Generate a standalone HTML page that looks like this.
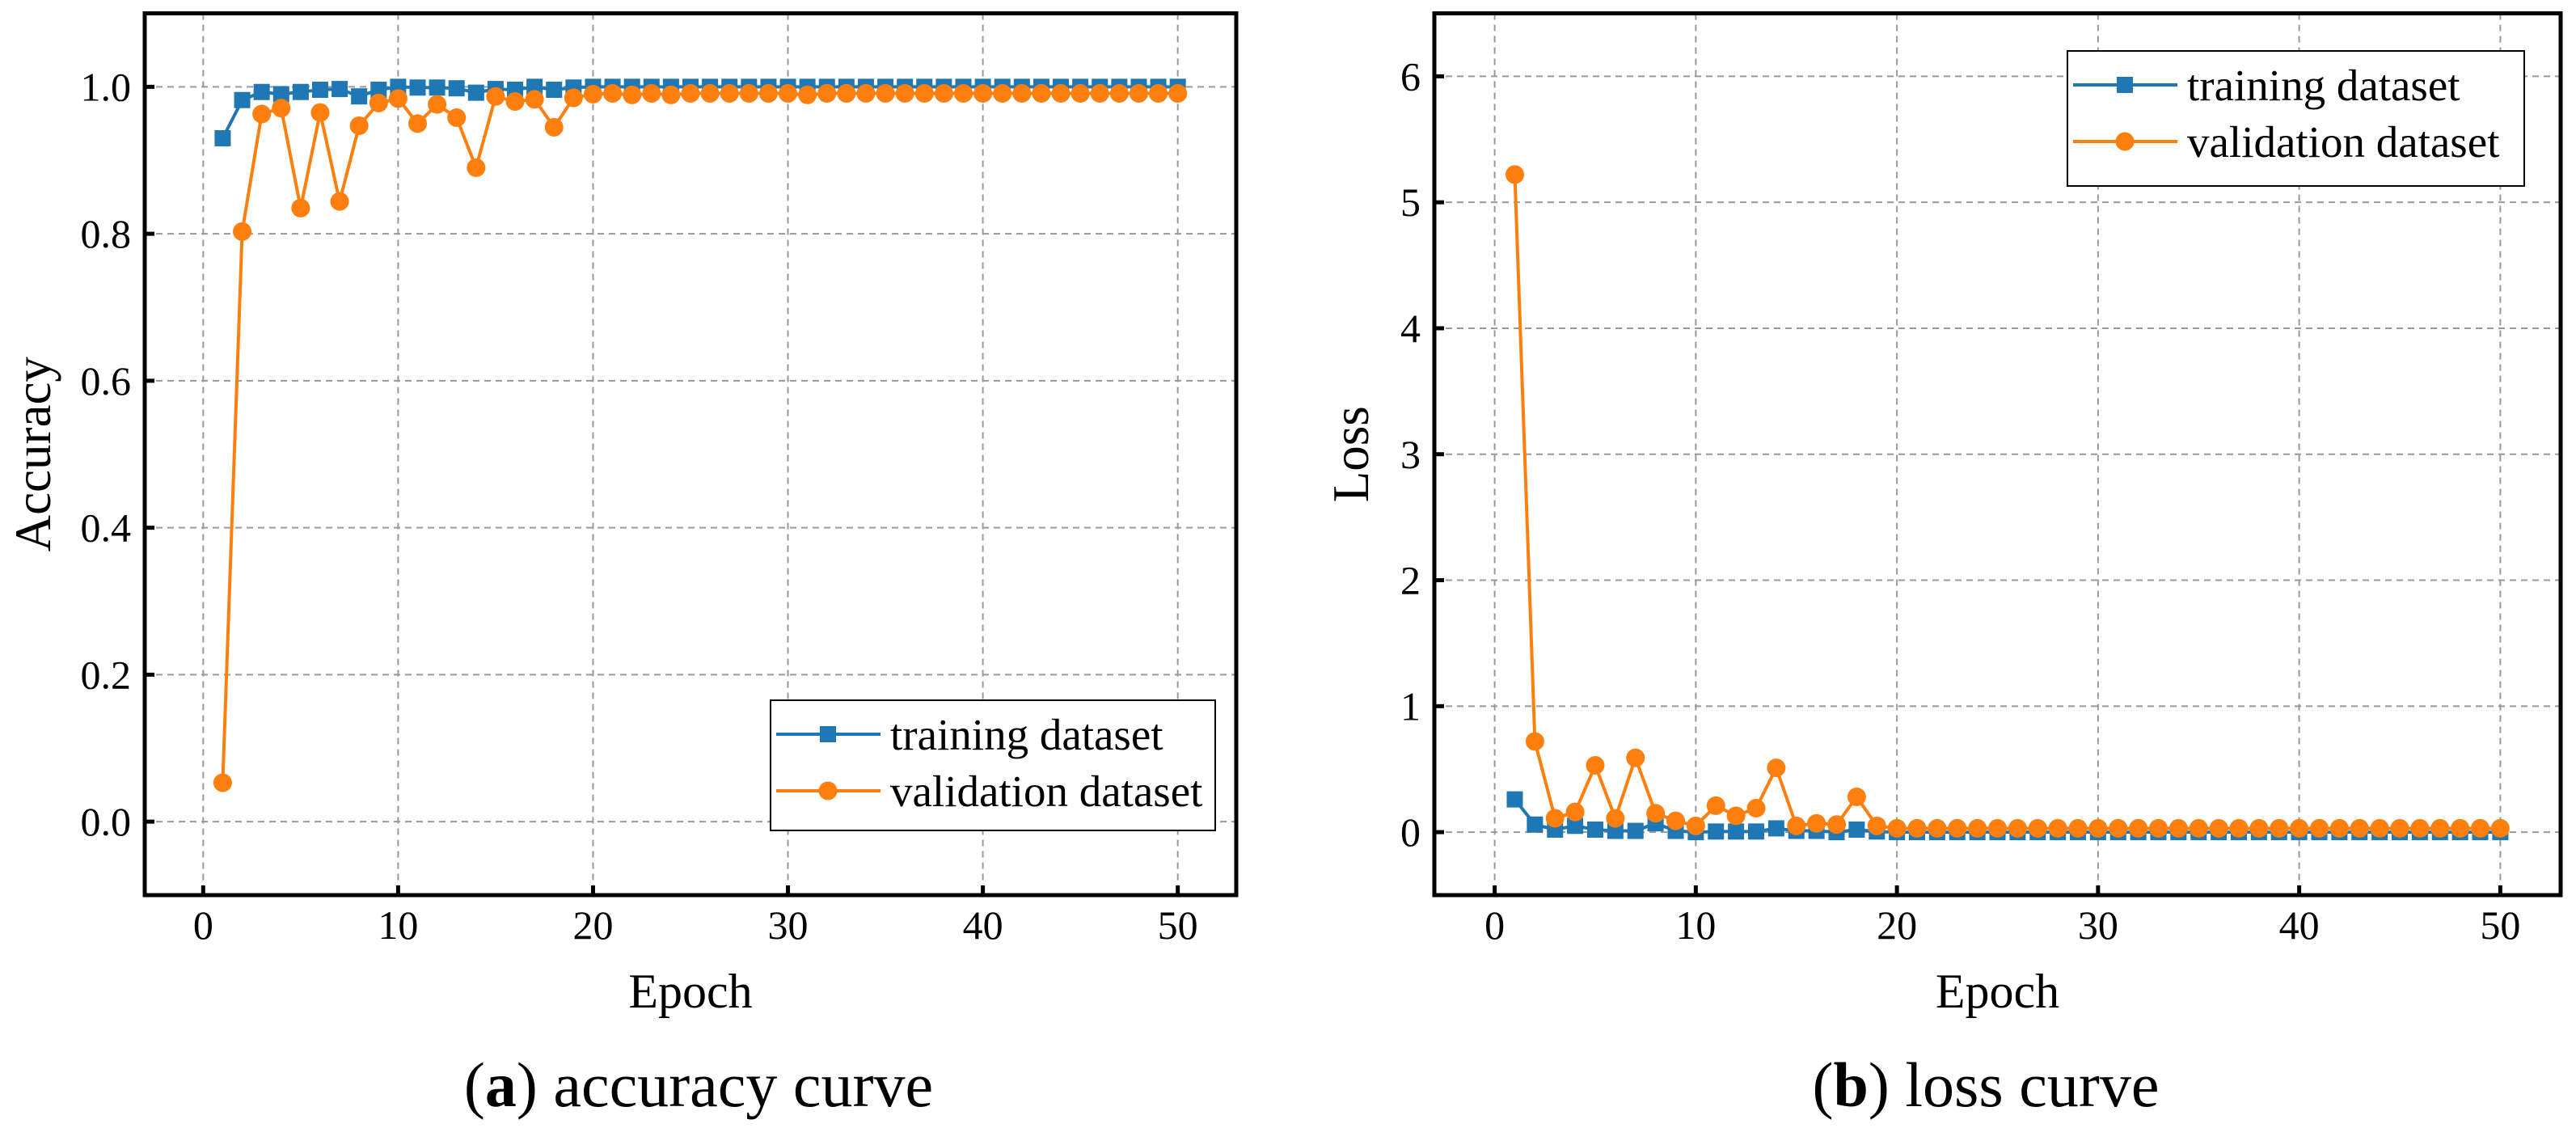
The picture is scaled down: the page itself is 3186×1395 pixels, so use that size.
<!DOCTYPE html>
<html><head><meta charset="utf-8"><style>
html,body{margin:0;padding:0;background:#fff}
svg{display:block;font-family:"Liberation Serif",serif}
</style></head><body>
<svg id="fig" width="3186" height="1395" viewBox="0 0 3186 1395" xmlns="http://www.w3.org/2000/svg">
<rect width="3186" height="1395" fill="#fff"/>
<g id="pa"></g>
<g id="pb"></g>
<text x="864" y="1368" font-size="78" text-anchor="middle">(<tspan font-weight="bold">a</tspan>) accuracy curve</text>
<text x="2456" y="1368" font-size="78" text-anchor="middle">(<tspan font-weight="bold">b</tspan>) loss curve</text>
</svg>
<script>
const epochs = Array.from({length:50},(_,i)=>i+1);
const accTrain = [0.93,0.982,0.993,0.99,0.993,0.996,0.997,0.987,0.996,1.0,0.999,0.999,0.998,0.992,0.997,0.996,1.0,0.996,0.999,1.0,1.0,1.0,1.0,1.0,1.0,1.0,1.0,1.0,1.0,1.0,1.0,1.0,1.0,1.0,1.0,1.0,1.0,1.0,1.0,1.0,1.0,1.0,1.0,1.0,1.0,1.0,1.0,1.0,1.0,1.0];
const accVal = [0.053,0.803,0.963,0.971,0.835,0.965,0.844,0.947,0.978,0.984,0.95,0.976,0.958,0.89,0.987,0.98,0.983,0.945,0.985,0.99,0.991,0.989,0.991,0.989,0.991,0.991,0.991,0.991,0.991,0.991,0.989,0.991,0.991,0.991,0.991,0.991,0.991,0.991,0.991,0.991,0.991,0.991,0.991,0.991,0.991,0.991,0.991,0.991,0.991,0.991];
const lossTrain = [0.26,0.06,0.02,0.05,0.02,0.01,0.01,0.07,0.01,0.0,0.005,0.005,0.005,0.03,0.01,0.01,0.0,0.02,0.005,0.0,0,0,0,0,0,0,0,0,0,0,0,0,0,0,0,0,0,0,0,0,0,0,0,0,0,0,0,0,0,0];
const lossVal = [5.22,0.72,0.11,0.16,0.53,0.11,0.59,0.15,0.09,0.05,0.21,0.13,0.19,0.51,0.05,0.07,0.06,0.28,0.05,0.03,0.03,0.03,0.03,0.03,0.03,0.03,0.03,0.03,0.03,0.03,0.03,0.03,0.03,0.03,0.03,0.03,0.03,0.03,0.03,0.03,0.03,0.03,0.03,0.03,0.03,0.03,0.03,0.03,0.03,0.03];
const xTicks = [0,10,20,30,40,50];
const accTicks = [0.0,0.2,0.4,0.6,0.8,1.0];
const lossTicks = [0,1,2,3,4,5,6];
const NS="http://www.w3.org/2000/svg";
function mk(parent,tag,attrs,text){const e=document.createElementNS(NS,tag);for(const k in attrs)e.setAttribute(k,attrs[k]);if(text!==undefined)e.textContent=text;parent.appendChild(e);return e;}
function panel(g,cfg){
  const {L,R,T,B,xmin,xmax,ymin,ymax,yTicks,fmt,ylabel,ylabelX,train,val,leg}=cfg;
  const sx=v=>L+(v-xmin)/(xmax-xmin)*(R-L);
  const sy=v=>B-(v-ymin)/(ymax-ymin)*(B-T);
  for(const t of xTicks){const l=mk(g,'line',{x1:sx(t),x2:sx(t),y1:T,y2:B,stroke:'#999','stroke-width':2,'stroke-dasharray':'8,6'});
    
    }
  for(const t of yTicks){const l=mk(g,'line',{x1:L,x2:R,y1:sy(t),y2:sy(t),stroke:'#999','stroke-width':2,'stroke-dasharray':'8,6'});
    
    }
  const series=[[train,'#1f77b4','sq','training-series'],[val,'#ff7f0e','ci','validation-series']];
  for(const [d,c,m,nm] of series){
    const pts=epochs.map((e,i)=>sx(e)+','+sy(d[i])).join(' ');
    const pl=mk(g,'polyline',{points:pts,fill:'none',stroke:c,'stroke-width':4,'stroke-linejoin':'round'});
    
    
    epochs.forEach((e,i)=>{let el;
      if(m==='sq')el=mk(g,'rect',{x:sx(e)-10,y:sy(d[i])-10,width:20,height:20,fill:c});
      else el=mk(g,'circle',{cx:sx(e),cy:sy(d[i]),r:11.5,fill:c});
      
      });
  }
  for(const t of xTicks){
    const tk=mk(g,'line',{x1:sx(t),x2:sx(t),y1:B,y2:B-12,stroke:'#000','stroke-width':5});
    
    
    const tx=mk(g,'text',{x:sx(t),y:B+54,'font-size':50,'text-anchor':'middle'},String(t));
    
    }
  for(const t of yTicks){
    const tk=mk(g,'line',{x1:L,x2:L+12,y1:sy(t),y2:sy(t),stroke:'#000','stroke-width':5});
    
    
    const tx=mk(g,'text',{x:L-17,y:sy(t)+17,'font-size':50,'text-anchor':'end'},fmt(t));
    
    }
  const fr=mk(g,'rect',{x:L,y:T,width:R-L,height:B-T,fill:'none',stroke:'#000','stroke-width':5});
  
  
  const xl=mk(g,'text',{x:(L+R)/2,y:1246,'font-size':60,'text-anchor':'middle'},'Epoch');
  
  
  const cy=(T+B)/2;
  const yl=mk(g,'text',{x:ylabelX,y:cy,'font-size':63,'text-anchor':'middle',transform:`rotate(-90 ${ylabelX} ${cy})`},ylabel);
  
  
  const lg=mk(g,'g',{});
  
  
  mk(lg,'rect',{x:leg.x,y:leg.y,width:leg.w,height:leg.h,fill:'#fff',stroke:'#000','stroke-width':2});
  const rows=[['training dataset','#1f77b4','sq',leg.y+42],['validation dataset','#ff7f0e','ci',leg.y+112]];
  for(const [lab,c,m,y] of rows){
    const en=mk(lg,'g',{});
    
    
    mk(en,'line',{x1:leg.x+7,x2:leg.x+136,y1:y,y2:y,stroke:c,'stroke-width':4});
    if(m==='sq')mk(en,'rect',{x:leg.x+61,y:y-10,width:20,height:20,fill:c});
    else mk(en,'circle',{cx:leg.x+71,cy:y,r:11.5,fill:c});
    mk(en,'text',{x:leg.x+148,y:y+19,'font-size':55},lab);
  }
}
panel(document.getElementById('pa'),{L:179,R:1529,T:16.5,B:1107,xmin:-3,xmax:53,ymin:-0.1,ymax:1.1,yTicks:accTicks,fmt:v=>v.toFixed(1),ylabel:'Accuracy',ylabelX:62,train:accTrain,val:accVal,leg:{x:953,y:866,w:550,h:161}});
panel(document.getElementById('pb'),{L:1774,R:3167,T:16.5,B:1107,xmin:-3,xmax:53,ymin:-0.5,ymax:6.5,yTicks:lossTicks,fmt:v=>String(v),ylabel:'Loss',ylabelX:1692,train:lossTrain,val:lossVal,leg:{x:2557,y:63,w:565,h:167}});
</script>
</body></html>
